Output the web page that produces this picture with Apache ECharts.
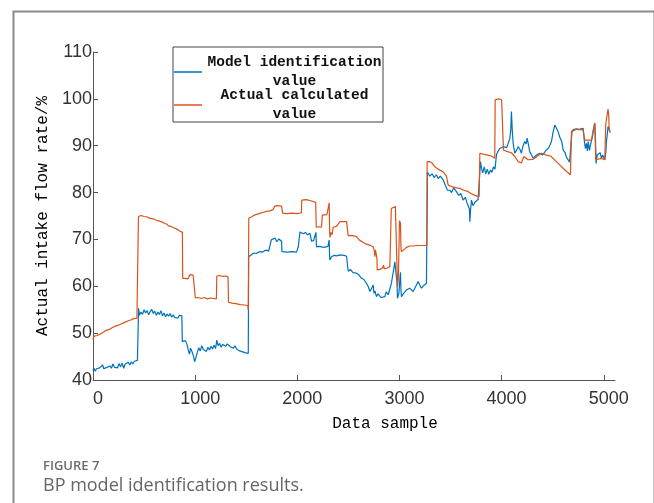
<!DOCTYPE html>
<html>
<head>
<meta charset="utf-8">
<script src="https://cdn.jsdelivr.net/npm/echarts@6/dist/echarts.min.js"></script>
<style>
html,body{margin:0;padding:0;background:#fff;}
#chart{width:654px;height:503px;}
</style>
</head>
<body>
<div id="chart"></div>
<script>
// ---- data ----
var xTickValues = [0, 1000, 2000, 3000, 4000, 5000];
var yTickLabels = [40, 50, 60, 70, 80, 90, 100, 110];
var seriesNames = ['Model identification value', 'Actual calculated value'];

var modelSamples = [0,10,20,35,50,65,80,95,105,120,135,150,165,180,195,210,225,240,255,270,285,300,315,330,345,360,375,390,405,420,435,442,
446,455,470,485,500,515,530,545,560,575,590,605,620,635,650,665,680,695,710,725,740,755,770,785,800,815,830,845,860,870,
874,890,905,920,935,945,955,970,985,995,1005,1020,1035,1050,1065,1080,1095,1110,1125,1140,1155,1170,1185,1200,1212,1225,1240,1255,1270,1285,1300,1315,1330,1345,1360,1375,1390,1405,1420,1435,1450,1465,1480,1495,1510,1520,
1524,1540,1560,1580,1600,1620,1640,1660,1680,1700,1720,1735,1745,1760,1781,1800,1820,1846,1850,1900,1950,1993,2010,2026,2040,2058,2080,2100,2124,2140,2160,2182,2188,2210,2237,2260,2300,2312,2316,2319,2335,2360,2384,2420,2460,2482,2498,2520,2545,2580,2600,2629,2650,2678,2695,2710,2725,2743,2750,2760,2775,2790,2808,2820,2835,2857,2870,2890,2906,2920,2939,2955,2965,2975,2981,2995,3005,3010,3015,3020,3040,3069,3100,3134,3160,3183,3200,3215,3240,3264,3270,
3274,3290,3297,3320,3340,3360,3380,3400,3428,3450,3470,3493,3510,3530,3558,3580,3600,3623,3645,3660,3673,3685,3689,3695,3705,3720,3740,3754,3770,3785,
3793,3803,3815,3830,3845,3860,3875,3890,3905,3920,3935,3950,3965,3982,4000,4015,4031,4050,4064,4080,4090,4096,4105,4113,4129,4145,4162,4180,4194,4210,4227,4240,4250,4260,4276,4290,4308,4330,4350,4374,4400,4420,4439,4460,4488,4505,4521,4535,4553,4570,4590,4602,4620,4635,4651,4665,4674,
4690,4710,4733,4760,4798,4810,4820,4830,4840,4847,4860,4870,4880,4890,4900,4912,4918,4925,4935,4950,4965,4977,4990,5000,5010,5020,5026,5035,5042,5052,5059,5064];

var modelValues = [42.0,42.5,41.9,42.4,42.1,42.6,42.2,43.2,42.4,42.0,42.7,42.3,43.0,42.5,43.4,42.7,43.1,42.6,43.5,42.8,43.6,42.5,43.4,43.0,43.8,43.2,43.9,43.4,44.0,43.6,44.2,44.3,
55.3,53.8,54.5,54.0,55.0,54.3,54.8,53.9,54.6,55.1,54.2,54.7,53.8,54.5,54.0,54.8,53.7,54.3,53.5,54.1,53.6,54.2,53.4,53.9,53.3,53.7,53.2,53.8,53.6,53.7,
48.2,47.9,48.4,47.6,46.2,45.5,46.8,46.0,45.0,43.9,44.6,45.8,46.9,46.2,47.3,46.5,46.9,46.1,47.0,46.4,47.2,46.6,47.4,46.7,48.5,47.3,47.8,47.0,47.6,47.9,47.2,47.7,47.8,47.1,47.5,46.8,47.3,46.6,46.9,46.2,46.6,46.0,46.4,45.8,46.1,45.7,
66.3,66.7,66.9,67.1,67.0,67.3,67.4,67.3,67.6,67.7,67.5,67.8,69.9,69.7,70.3,69.5,70.1,69.6,67.4,67.3,67.4,67.3,68.5,71.6,71.8,71.2,71.5,71.0,71.3,69.6,69.8,71.5,68.4,68.5,68.4,68.3,68.5,69.9,66.5,65.6,66.3,66.6,66.5,66.7,66.6,66.4,63.2,63.6,62.9,62.8,62.5,61.7,61.5,60.6,59.9,58.9,59.4,60.3,58.5,59.0,57.8,58.4,58.5,57.6,58.0,57.8,58.8,58.2,58.5,60.5,63.0,65.2,63.0,61.0,57.4,58.6,61.8,63.0,59.0,57.8,58.5,59.2,59.6,58.9,60.0,61.0,60.2,59.6,60.2,60.6,61.0,
84.4,84.0,83.5,84.0,83.2,83.8,83.0,83.5,82.7,81.5,80.5,80.5,80.0,81.0,80.2,79.4,79.8,78.4,79.0,77.9,78.2,76.5,73.8,76.0,78.4,77.2,78.0,77.7,78.5,78.4,
86.6,85.2,84.2,85.5,84.0,85.0,83.9,84.8,84.3,85.5,85.0,88.1,88.8,89.4,89.0,89.8,90.1,89.6,90.5,91.5,93.5,97.3,93.0,90.5,88.4,89.0,89.8,89.2,88.4,90.0,90.9,90.4,91.6,90.5,88.7,88.2,87.3,87.8,88.1,88.4,88.0,88.6,89.1,89.5,90.9,93.0,94.4,94.0,93.0,91.8,90.8,89.1,88.6,87.5,87.0,86.5,86.2,
93.2,93.5,93.6,93.5,93.7,91.0,89.4,90.5,88.9,90.9,89.0,90.2,89.8,92.0,93.5,94.8,92.0,86.2,88.0,87.6,88.5,87.3,88.0,87.5,87.0,88.5,90.9,92.5,94.1,93.5,93.1,92.8];

var actualSamples = [0,8,40,80,100,130,160,190,220,250,280,310,340,370,400,430,440,
445,470,500,530,560,590,620,650,680,700,720,740,760,790,820,850,875,
878,900,930,945,950,980,998,1002,1030,1060,1090,1120,1150,1180,1208,1212,1240,1270,1300,1322,1326,1360,1400,1440,1480,1515,1520,
1525,1550,1580,1610,1640,1670,1700,1730,1760,1780,1800,1846,1856,1900,1950,2000,2040,2044,2060,2090,2124,2130,2180,2185,2210,2237,2245,2290,2305,2312,2316,2319,2330,2340,2351,2384,2417,2482,2498,2540,2580,2612,2650,2678,2710,2743,2755,2759,2765,2775,2780,2782,2808,2830,2845,2850,2880,2906,2915,2920,2940,2960,2971,2975,2981,2990,3000,3010,3015,3020,3036,3069,3100,3134,3183,3230,3268,
3271,3297,3320,3346,3380,3428,3460,3477,3493,3520,3560,3591,3630,3673,3700,3740,3780,
3787,3820,3860,3900,3933,3937,3970,4000,4015,4018,4050,4096,4129,4162,4194,4217,4259,4308,4390,4439,4480,4504,4569,4635,4674,4680,
4684,4733,4798,4814,4880,4890,4912,4920,4922,4935,4977,5010,5020,5042,5050,5052,5059,5065];

var actualValues = [48.6,49.3,49.5,49.9,50.2,50.6,50.8,51.2,51.5,51.7,52.0,52.3,52.6,52.8,53.1,53.2,53.3,
74.9,75.1,74.9,74.8,74.5,74.4,74.1,73.9,73.7,73.4,73.3,72.9,72.8,72.5,72.2,71.8,71.5,
61.7,61.7,61.6,61.8,62.5,62.4,62.3,57.5,57.6,57.4,57.6,57.3,57.5,57.4,57.3,62.2,62.3,62.1,62.2,62.0,56.6,56.4,56.3,56.1,56.0,55.9,54.9,
74.5,74.8,75.2,75.4,75.6,75.8,76.0,76.1,76.3,77.1,77.2,77.1,75.6,75.5,75.6,75.5,75.7,78.4,78.6,78.5,78.3,77.9,77.9,72.6,72.7,72.6,75.2,75.3,75.6,77.8,72.5,70.4,71.5,71.0,72.6,72.8,73.8,73.8,70.8,70.8,70.6,69.8,69.3,69.0,68.8,68.4,67.5,66.3,67.8,67.4,66.0,63.5,63.6,63.8,64.5,63.7,63.9,64.2,64.5,76.6,76.8,77.0,77.1,65.0,59.9,62.0,74.0,73.5,68.0,67.4,67.7,68.3,68.6,68.6,68.7,68.7,68.7,
86.6,86.6,86.3,85.5,85.0,84.4,83.5,81.6,81.6,81.2,81.0,80.9,80.5,80.2,79.8,79.4,79.1,
88.4,88.2,88.0,87.8,87.3,99.8,100.0,99.8,99.8,89.1,88.8,88.5,87.7,86.6,86.3,87.7,87.0,87.1,88.4,88.0,87.8,87.3,85.9,84.5,83.8,83.7,
93.0,93.5,93.4,91.2,91.2,92.6,94.9,94.5,87.0,87.3,87.3,87.0,94.8,97.8,96.0,94.1,93.0,93.0];

function pairs(xs, ys) { return xs.map(function (x, i) { return [x, ys[i]]; }); }

var chart = echarts.init(document.getElementById('chart'), null, {renderer: 'canvas'});
var monoFont = '"Liberation Mono", "DejaVu Sans Mono", monospace';
var sansFont = '"Liberation Sans", Arial, sans-serif';

chart.setOption({
  animation: false,
  backgroundColor: '#ffffff',
  grid: {left: 93, right: 39, top: 52, bottom: 123, containLabel: false},
  graphic: [
    {type: 'rect', left: 11, top: 9, shape: {width: 641, height: 520}, style: {fill: 'none', stroke: '#8a8a8a', lineWidth: 2}, z: -10, silent: true},
    {type: 'text', left: 43, top: 460, style: {text: 'FIGURE 7', fill: '#6b6b6b', font: '600 13px "Open Sans", sans-serif'}},
    {type: 'text', left: 43, top: 477, style: {text: 'BP model identification results.', fill: '#666666', font: '18px "Open Sans", sans-serif'}}
  ],
  legend: {
    orient: 'vertical',
    left: 173,
    top: 47,
    data: seriesNames,
    icon: 'rect',
    itemWidth: 28,
    itemHeight: 1.5,
    itemGap: -1,
    padding: [8, 1, 0, 1],
    borderColor: '#444',
    borderWidth: 1,
    backgroundColor: '#fff',
    formatter: function (name) {
      var idx = name.lastIndexOf(' ');
      return '{a|' + name.slice(0, idx) + '}\n{a|' + name.slice(idx + 1) + '}';
    },
    textStyle: {
      color: '#111',
      rich: {a: {width: 175, align: 'center', fontFamily: monoFont, fontWeight: 'bold', fontSize: 14.5, lineHeight: 19, color: '#111'}}
    }
  },
  xAxis: {
    type: 'value',
    min: 0,
    max: 5110,
    interval: 1000,
    name: 'Data sample',
    nameLocation: 'middle',
    nameGap: 36,
    nameTextStyle: {fontFamily: monoFont, fontSize: 16, color: '#000', padding: [0, 0, 0, 62]},
    axisLine: {show: true, lineStyle: {color: '#555', width: 1}},
    axisTick: {show: true, inside: true, length: 5, lineStyle: {color: '#555'}, customValues: xTickValues},
    axisLabel: {fontFamily: sansFont, fontSize: 18, color: '#333', margin: 10, padding: [0, 0, 0, 10], customValues: xTickValues,
      formatter: function (v) { return String(v); }},
    splitLine: {show: false}
  },
  yAxis: {
    type: 'value',
    min: 40,
    max: 110,
    interval: 10,
    name: 'Actual intake flow rate/%',
    nameLocation: 'middle',
    nameGap: 41,
    nameTextStyle: {fontFamily: monoFont, fontSize: 16, color: '#000'},
    axisLine: {show: true, lineStyle: {color: '#555', width: 1}},
    axisTick: {show: true, inside: true, length: 5, lineStyle: {color: '#555'}},
    axisLabel: {fontFamily: sansFont, fontSize: 18, color: '#333', margin: 1,
      formatter: function (v) { return yTickLabels.indexOf(v) >= 0 ? String(v) : ''; }},
    splitLine: {show: false}
  },
  series: [
    {name: seriesNames[0], type: 'line', data: pairs(modelSamples, modelValues), showSymbol: false, symbol: 'none',
      color: '#0072BD', lineStyle: {width: 1.2, color: '#0072BD'}, z: 2},
    {name: seriesNames[1], type: 'line', data: pairs(actualSamples, actualValues), showSymbol: false, symbol: 'none',
      color: '#D95319', lineStyle: {width: 1.2, color: '#D95319'}, z: 3}
  ]
});
</script>
</body>
</html>
